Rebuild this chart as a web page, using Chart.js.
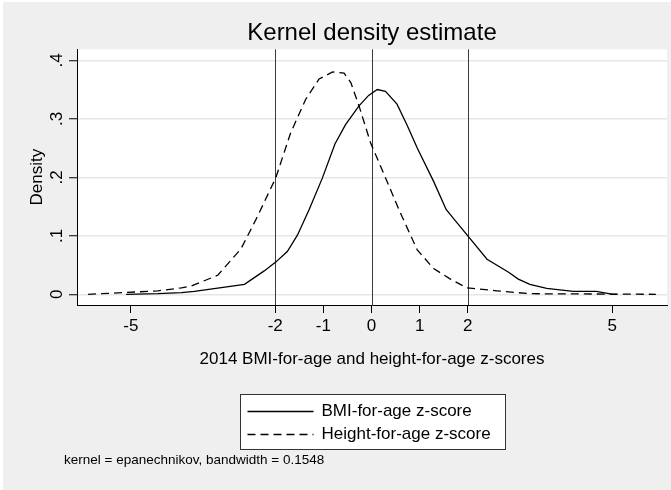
<!DOCTYPE html>
<html>
<head>
<meta charset="utf-8">
<script src="https://cdn.jsdelivr.net/npm/chart.js@4/dist/chart.umd.min.js"></script>
<style>
  body { margin: 0; background: #ffffff; }
  #wrap { width: 671px; height: 490px; }
</style>
</head>
<body>
<div id="wrap"><canvas id="chart" width="671" height="490"></canvas></div>
<script>
// values
bmiX = [-5.1, -4.44, -3.95, -3.68, -2.64, -2.23, -1.99, -1.75, -1.54, -1.30, -1.02, -0.76, -0.54, -0.26, -0.06, 0.12, 0.29, 0.53, 0.74, 0.95, 1.29, 1.55, 1.77, 2.01, 2.40, 2.84, 3.05, 3.29, 3.64, 4.19, 4.67, 5.02, 5.1]
bmiY = [0.000, 0.001, 0.003, 0.005, 0.017, 0.040, 0.055, 0.073, 0.101, 0.144, 0.199, 0.257, 0.290, 0.322, 0.340, 0.350, 0.347, 0.325, 0.289, 0.250, 0.193, 0.145, 0.123, 0.099, 0.060, 0.038, 0.026, 0.017, 0.010, 0.005, 0.005, 0.000, 0.000]

hfaX = [-5.89, -5.13, -4.44, -3.95, -3.75, -3.27, -3.19, -2.71, -2.37, -1.99, -1.68, -1.37, -1.09, -0.81, -0.57, -0.43, -0.26, -0.02, 0.25, 0.60, 0.95, 1.29, 1.64, 1.98, 2.60, 3.29, 5.91]
hfaY = [0.000, 0.003, 0.006, 0.011, 0.014, 0.030, 0.033, 0.078, 0.133, 0.199, 0.276, 0.333, 0.368, 0.380, 0.378, 0.362, 0.322, 0.259, 0.207, 0.139, 0.076, 0.044, 0.026, 0.011, 0.006, 0.001, 0.000]

xTicks = [-5, -2, -1, 0, 1, 2, 5]
xTickLabels = ["-5", "-2", "-1", "0", "1", "2", "5"]
yTicks = [0, 0.1, 0.2, 0.3, 0.4]
yTickLabels = ["0", ".1", ".2", ".3", ".4"]
xLines = [-2, 0, 2]

seriesNames = ["BMI-for-age z-score", "Height-for-age z-score"]
chartTitle = "Kernel density estimate"
xTitle = "2014 BMI-for-age and height-for-age z-scores"
yTitle = "Density"
noteText = "kernel = epanechnikov, bandwidth = 0.1548"

const FONT = "'Liberation Sans', Arial, sans-serif";
Chart.defaults.font.family = FONT;
Chart.defaults.color = '#000';

function toPoints(xs, ys) {
    return xs.map((x, i) => ({x: x, y: ys[i]}));
}

// grey page, white plot region
const backdrop = {
    id: 'backdrop',
    beforeDraw(chart) {
        const ctx = chart.ctx;
        const ca = chart.chartArea;
        ctx.save();
        ctx.fillStyle = '#ffffff';
        ctx.fillRect(0, 0, chart.width, chart.height);
        ctx.fillStyle = '#efefef';
        ctx.fillRect(3, 2, chart.width - 3, chart.height - 2);
        ctx.fillStyle = '#ffffff';
        ctx.fillRect(ca.left, ca.top, ca.right - ca.left, ca.bottom - ca.top);
        ctx.restore();
    }
};

// xline(-2 0 2)
const refLines = {
    id: 'refLines',
    beforeDatasetsDraw(chart) {
        const ctx = chart.ctx;
        const ca = chart.chartArea;
        const xs = chart.scales.x;
        ctx.save();
        ctx.strokeStyle = '#3a3a3a';
        ctx.lineWidth = 1;
        xLines.forEach(v => {
            const px = Math.round(xs.getPixelForValue(v)) + 0.5;
            ctx.beginPath();
            ctx.moveTo(px, ca.top);
            ctx.lineTo(px, ca.bottom);
            ctx.stroke();
        });
        ctx.restore();
    }
};

// boxed legend and the note under it
const boxLegend = {
    id: 'boxLegend',
    afterDraw(chart) {
        const ctx = chart.ctx;
        const ca = chart.chartArea;
        const cx = (ca.left + ca.right) / 2;
        const w = 265, h = 55;
        const left = Math.round(cx - w / 2) + 0.5;
        const top = Math.round(ca.bottom + 89) + 0.5;
        ctx.save();
        ctx.fillStyle = '#ffffff';
        ctx.fillRect(left, top, w, h);
        ctx.strokeStyle = '#333';
        ctx.lineWidth = 1;
        ctx.strokeRect(left, top, w, h);

        const rows = [top + 16.5, top + 39.5];
        chart.data.datasets.forEach((ds, i) => {
            const y = Math.round(rows[i]) + 0.5;
            ctx.strokeStyle = ds.borderColor;
            ctx.lineWidth = ds.borderWidth;
            ctx.setLineDash(ds.borderDash || []);
            ctx.beginPath();
            ctx.moveTo(left + 7, y);
            ctx.lineTo(left + 73, y);
            ctx.stroke();
            ctx.setLineDash([]);
            ctx.fillStyle = '#000';
            ctx.font = '17px ' + FONT;
            ctx.textBaseline = 'middle';
            ctx.textAlign = 'left';
            ctx.fillText(ds.label, left + 81, rows[i]);
        });

        ctx.font = '13.5px ' + FONT;
        ctx.textBaseline = 'middle';
        ctx.fillText(noteText, 64, ca.bottom + 155);
        ctx.restore();
    }
};

new Chart(document.getElementById('chart'), {
    type: 'scatter',
    data: {
        datasets: [
            {
                label: seriesNames[0],
                data: toPoints(bmiX, bmiY),
                showLine: true,
                borderColor: '#000',
                borderWidth: 1.3,
                pointRadius: 0,
                tension: 0,
                fill: false
            },
            {
                label: seriesNames[1],
                data: toPoints(hfaX, hfaY),
                showLine: true,
                borderColor: '#000',
                borderWidth: 1.3,
                borderDash: [8, 5],
                pointRadius: 0,
                tension: 0,
                fill: false
            }
        ]
    },
    options: {
        responsive: false,
        animation: false,
        devicePixelRatio: 1,
        layout: { padding: { left: 0, right: 4, top: 0, bottom: 110 } },
        plugins: {
            legend: { display: false },
            tooltip: { enabled: false },
            title: {
                display: true,
                text: chartTitle,
                fullSize: false,
                color: '#000',
                font: { size: 24, weight: 'normal', lineHeight: 1 },
                padding: { top: 21.5, bottom: 3.8 }
            }
        },
        scales: {
            x: {
                type: 'linear',
                min: -6.12,
                max: 6.14,
                afterBuildTicks: s => { s.ticks = xTicks.map(v => ({value: v})); },
                afterFit: s => { s.height = 75; },
                ticks: {
                    autoSkip: false,
                    maxRotation: 0,
                    padding: 3,
                    color: '#000',
                    font: { size: 17 },
                    callback: (v, i) => xTickLabels[i]
                },
                grid: { display: true, drawOnChartArea: false, drawTicks: true, tickLength: 8, color: '#000' },
                border: { display: true, color: '#000', width: 1 },
                title: {
                    display: true,
                    text: xTitle,
                    color: '#000',
                    font: { size: 17 },
                    padding: { top: 0, bottom: 10.8 }
                }
            },
            y: {
                type: 'linear',
                min: -0.0183,
                max: 0.4188,
                afterBuildTicks: s => { s.ticks = yTicks.map(v => ({value: v})); },
                afterFit: s => { s.width = 77; },
                ticks: {
                    minRotation: 90,
                    maxRotation: 90,
                    crossAlign: 'center',
                    padding: 5,
                    color: '#000',
                    font: { size: 17 },
                    callback: (v, i) => yTickLabels[i]
                },
                grid: { color: '#e6e6e6', lineWidth: 1.5, tickColor: '#000', tickLength: 8, tickWidth: 1 },
                border: { display: true, color: '#000', width: 1 },
                title: {
                    display: true,
                    text: yTitle,
                    color: '#000',
                    font: { size: 17 },
                    padding: { top: 27.3, bottom: 0 }
                }
            }
        }
    },
    plugins: [backdrop, refLines, boxLegend]
});
</script>
</body>
</html>
